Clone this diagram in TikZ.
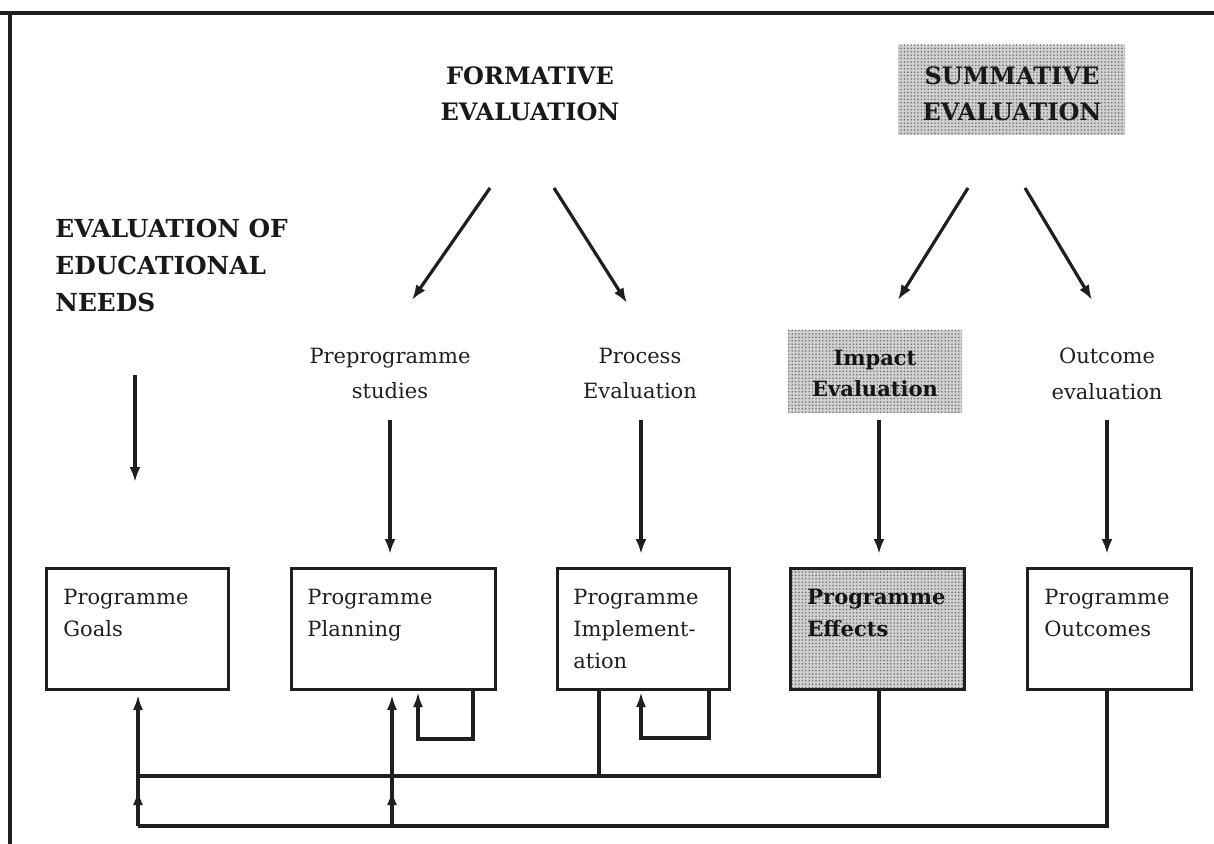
\documentclass[tikz,border=0pt]{standalone}
\usepackage{fontspec}
\setmainfont{DejaVu Serif}
\usetikzlibrary{arrows.meta,patterns}
% fine halftone screen used for the shaded blocks
\pgfdeclarepatternformonly{halftonedots}{\pgfpoint{-1pt}{-1pt}}{\pgfpoint{1pt}{1pt}}{\pgfpoint{1.7pt}{1.7pt}}{%
  \pgfpathcircle{\pgfpoint{0pt}{0pt}}{0.45pt}\pgfusepath{fill}}
\begin{document}
\begin{tikzpicture}[x=0.5pt,y=-0.5pt,
  wire/.style={draw=black!88,line width=1.6pt},
  arr/.style={wire,-{Latex[length=7.5pt,width=5.5pt]}},
  farr/.style={wire,-{Latex[length=7.5pt,width=5pt]},shorten >=2pt},
  halftone/.style={preaction={fill=black!18},pattern=halftonedots,pattern color=black!55},
  boxnode/.style={draw=black!88,line width=1.4pt,anchor=north west,inner sep=0pt,minimum height=60.5pt},
  head/.style={font=\fontsize{12}{18}\selectfont\bfseries,align=center,text=black!90,inner sep=0pt},
  lab/.style={font=\fontsize{10.5}{17.5}\selectfont,align=center,text=black!88,inner sep=0pt},
  btext/.style={font=\fontsize{10.5}{16}\selectfont,align=left,anchor=base west,inner sep=0pt,text=black!88},
]
\useasboundingbox (0,0) rectangle (1214,844);

% outer frame (top and left edges)
\draw[black!88,line width=1.8pt] (0,13) -- (1214,13);
\draw[black!88,line width=1.6pt] (10,13) -- (10,844);

% headings
\node[head] (form) at (530,94) {FORMATIVE\\EVALUATION};
\node[halftone,minimum width=113.5pt,minimum height=45pt,inner sep=0pt] (summ) at (1011.5,90) {};
\node[head] (summtext) at (1012,94) {SUMMATIVE\\EVALUATION};
\node[head,align=left,anchor=west,font=\fontsize{12.4}{18.5}\selectfont\bfseries] (needs) at (55,265)
  {EVALUATION OF\\EDUCATIONAL\\NEEDS};

% evaluation labels
\node[lab] (pre) at (390,373) {Preprogramme\\studies};
\node[lab] (proc) at (640,373) {Process\\Evaluation};
\node[halftone,minimum width=87pt,minimum height=41.5pt,inner sep=0pt] (imp) at (875,371.5) {};
\node[lab,font=\fontsize{10.5}{15.5}\selectfont\bfseries,text=black!92] (imptext) at (875,373) {Impact\\Evaluation};
\node[lab,font=\fontsize{10.5}{18}\selectfont] (outl) at (1107,374) {Outcome\\evaluation};

% programme boxes
\node[boxnode,minimum width=91pt] (goals) at (45,567) {};
\node[boxnode,minimum width=102pt] (plan) at (290,567) {};
\node[boxnode,minimum width=86pt] (impl) at (556,567) {};
\node[boxnode,halftone,minimum width=87pt] (eff) at (789,567) {};
\node[boxnode,minimum width=82pt] (outc) at (1026,567) {};

% box texts (anchored at the baseline of their last line)
\node[btext] (goalst) at (63,636) {Programme\\Goals};
\node[btext] (plant) at (307,636) {Programme\\Planning};
\node[btext] (implt) at (573,668) {Programme\\Implement-\\ation};
\node[btext,font=\fontsize{10.5}{16}\selectfont\bfseries,text=black!92] (efft) at (807,636) {Programme\\Effects};
\node[btext] (outct) at (1044,636) {Programme\\Outcomes};

% arrows from the two evaluation headings
\coordinate (f1) at (490,188); \coordinate (f1e) at (412,300);
\coordinate (f2) at (554,188); \coordinate (f2e) at (627,303);
\coordinate (s1) at (968,188); \coordinate (s1e) at (898,300);
\coordinate (s2) at (1025,188); \coordinate (s2e) at (1092,300);
\draw[arr] (f1) -- (f1e);
\draw[arr] (f2) -- (f2e);
\draw[arr] (s1) -- (s1e);
\draw[arr] (s2) -- (s2e);

% arrows down to the programme boxes
\coordinate (n1) at (135,375); \coordinate (n1e) at (135,482);
\coordinate (p1) at (390,420); \coordinate (p1e) at (390,554);
\coordinate (q1) at (641,420); \coordinate (q1e) at (641,554);
\coordinate (i1) at (879,420); \coordinate (i1e) at (879,554);
\coordinate (o1) at (1107,420); \coordinate (o1e) at (1107,554);
\draw[arr] (n1) -- (n1e);
\draw[arr] (p1) -- (p1e);
\draw[arr] (q1) -- (q1e);
\draw[arr] (i1) -- (i1e);
\draw[arr] (o1) -- (o1e);

% feedback loops within planning and implementation
\draw[farr] (473,688) -- (473,739) -- (418,739) -- (418,688);
\draw[farr] (709,688) -- (709,738) -- (641,738) -- (641,688);

% feedback bus lines
\coordinate (busA) at (138,776);
\coordinate (busB) at (138,826);
\coordinate (pA) at (392,776);
\coordinate (pB) at (392,826);
\draw[wire] (599,688) -- (599,776);
\draw[wire] (879,688) -- (879,776) -- (busA);
\draw[wire] (1107,688) -- (1107,826) -- (busB);
\draw[wire] (busB) -- (busA);
\draw[wire] (pB) -- (pA);
\draw[farr] (busA) -- (goals.south -| busA);
\draw[farr] (pA) -- (plan.south -| pA);
\draw[farr] (busB) -- (138,786);
\draw[farr] (pB) -- (392,786);
\end{tikzpicture}
\end{document}
